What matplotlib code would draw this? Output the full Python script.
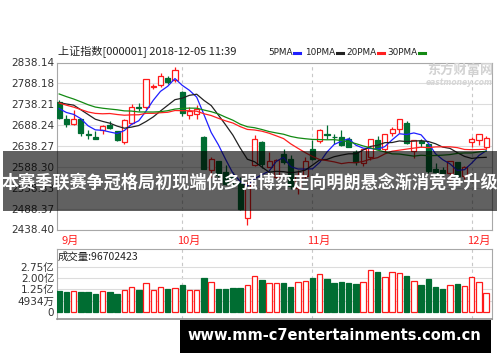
"""
SSE composite daily candles, Sep-Dec 2018, with MA lines, volume and overlay banner
"""

import numpy as np
import pandas as pd

import matplotlib

matplotlib.use("Agg")
import matplotlib.pyplot as plt  # noqa:E402
from matplotlib.lines import Line2D  # noqa:E402
from matplotlib.patches import Rectangle  # noqa:E402

CJK = ["Noto Sans CJK SC", "DejaVu Sans"]
LATIN = ["DejaVu Sans", "Noto Sans CJK SC"]

# closes before the window, used only to seed the moving averages
prior_closes = [
    2882.23, 2873.59, 2869.05, 2876.40, 2824.53, 2768.02, 2740.44, 2705.16,
    2779.37, 2744.07, 2794.38, 2795.31, 2785.87, 2780.96, 2723.26, 2705.19,
    2668.97, 2698.47, 2733.88, 2714.61, 2724.62, 2729.43, 2780.90, 2777.98,
    2769.30, 2737.74, 2725.25, 2720.73, 2750.58,
]

opens = [
    2744, 2703, 2690, 2703, 2666, 2661, 2677, 2689, 2674, 2649, 2693, 2732,
    2731, 2779, 2784, 2802, 2796, 2768, 2713, 2715, 2660, 2581, 2602, 2576,
    2570, 2553, 2465, 2593, 2648, 2588, 2565, 2619, 2607, 2537, 2567, 2632,
    2651, 2665.5, 2660, 2660, 2655, 2624, 2597, 2611, 2652, 2632, 2669, 2679,
    2693, 2627, 2650, 2643, 2584, 2581, 2573, 2601, 2567, 2647, 2653, 2636,
]
highs = [
    2748, 2713, 2724, 2704, 2676, 2673, 2688, 2697, 2675, 2702, 2740, 2741,
    2798, 2787, 2814, 2805, 2827, 2771, 2732, 2737, 2662, 2612, 2603, 2592,
    2576, 2565, 2551, 2664, 2651, 2624, 2607, 2631, 2616, 2582, 2611, 2653,
    2680, 2689, 2668, 2676, 2660, 2629, 2631, 2656, 2662, 2668, 2684, 2704,
    2698, 2652, 2655, 2645, 2597, 2589, 2602, 2601, 2590, 2659, 2667, 2663,
]
lows = [
    2703, 2683, 2688, 2662, 2656, 2654, 2668, 2678, 2651, 2644, 2691, 2721,
    2726, 2774, 2780, 2787, 2792, 2710, 2702, 2703, 2583, 2565, 2563, 2545,
    2541, 2486, 2449, 2591, 2586, 2587, 2561, 2596, 2536, 2524, 2562, 2604,
    2645, 2654, 2642, 2638, 2635, 2592, 2591, 2605, 2630, 2623, 2662, 2670,
    2643, 2610, 2637, 2574, 2567, 2567, 2556, 2566, 2559, 2635, 2641, 2630,
]
closes = [
    2704.34, 2691.59, 2702.30, 2669.48, 2664.80, 2656.11, 2686.58, 2681.64,
    2651.79, 2699.95, 2730.85, 2729.24, 2797.49, 2781.14, 2806.81, 2791.77,
    2821.35, 2716.51, 2721.01, 2725.84, 2583.46, 2606.91, 2568.10, 2546.33,
    2561.61, 2486.42, 2550.47, 2654.88, 2594.83, 2603.30, 2603.80, 2598.85,
    2542.10, 2568.05, 2602.78, 2606.24, 2676.48, 2665.43, 2659.36, 2641.34,
    2635.63, 2598.87, 2630.52, 2654.88, 2632.24, 2668.17, 2679.11, 2703.51,
    2645.43, 2651.51, 2645.85, 2579.48, 2575.81, 2574.68, 2601.74, 2567.44,
    2588.19, 2654.80, 2665.96, 2658.00,
]
# volume in 亿 (1e8)
volumes = [
    1.16, 1.07, 1.12, 1.07, 1.07, 0.94, 1.12, 1.07, 0.94, 1.20, 1.42, 1.20,
    1.65, 1.20, 1.42, 1.25, 1.36, 1.52, 1.20, 1.20, 2.02, 1.71, 1.25, 1.25,
    1.32, 1.32, 1.54, 2.15, 1.85, 1.65, 1.65, 1.65, 1.38, 1.71, 1.82, 2.02,
    2.27, 1.95, 1.65, 1.75, 1.65, 1.58, 1.75, 2.51, 2.40, 2.09, 2.38, 2.31,
    2.13, 1.82, 1.52, 1.95, 1.38, 1.25, 1.52, 1.60, 1.47, 2.07, 1.71, 1.02,
]

month_labels = ["9月", "10月", "11月", "12月"]
month_starts = [0, 17, 35, 57]

price_ticks = [2438.40, 2488.37, 2538.33, 2588.30, 2638.27, 2688.24,
               2738.21, 2788.18, 2838.14]
vol_ticks = [0, 0.4934, 1.25, 2.00, 2.75]
vol_tick_labels = ["0", "4934万", "1.25亿", "2.00亿", "2.75亿"]

ma_periods = [5, 10, 20, 30]
ma_colors = ["#1f1fff", "#222222", "#ff2020", "#138a13"]
ma_names = ["5PMA", "10PMA", "20PMA", "30PMA"]

title = "上证指数[000001] 2018-12-05 11:39"
vol_title = "成交量:96702423"
banner = "本赛季联赛争冠格局初现端倪多强博弈走向明朗悬念渐消竞争升级"
site = "www.mm-c7entertainments.com.cn"

RED = "#ff1a1a"
GREEN = "#006d32"
W, H = 500, 362


def fx(px):
    return px / W


def fy(py):
    return (H - py) / H


def vol_fwd(v):
    return np.interp(v, [-1.0] + vol_ticks + [5.0],
                     [-1 / 0.4934, 0, 1, 2, 3, 4, 7])


def vol_inv(g):
    return np.interp(g, [-1 / 0.4934, 0, 1, 2, 3, 4, 7],
                     [-1.0] + vol_ticks + [5.0])


def main():
    fig = plt.figure(figsize=(W / 100, H / 100), dpi=100)
    ax = fig.add_axes([fx(57), fy(229.5), fx(435), (229.5 - 62.5) / H])
    vax = fig.add_axes([fx(57), fy(318.5), fx(435), 70 / H])

    o = np.array(opens)
    c = np.array(closes)
    hi = np.array(highs)
    lo = np.array(lows)
    x = np.arange(len(c))
    up = c >= o
    top = np.maximum(o, c)
    bot = np.minimum(o, c)

    # grid
    for a in (ax, vax):
        for m in month_starts[1:]:
            a.axvline(m, color="#c8c8c8", lw=0.8, ls=(0, (3, 3)), zorder=0)
    for t in price_ticks:
        ax.axhline(t, color="#dcdcdc", lw=0.8, zorder=0)
    for t in vol_ticks[1:]:
        vax.axhline(t, color="#dcdcdc", lw=0.8, zorder=0)

    # candles
    cols = np.where(up, RED, GREEN)
    ax.vlines(x, top, hi, colors=cols, lw=0.9, zorder=2)
    ax.vlines(x, lo, bot, colors=cols, lw=0.9, zorder=2)
    ax.bar(x, np.maximum(top - bot, 0.8), bottom=bot, width=0.7,
           color=np.where(up, "white", GREEN), edgecolor=cols, lw=0.9,
           zorder=3)

    # moving averages
    allc = pd.Series(prior_closes + closes)
    for p, col in zip(ma_periods, ma_colors):
        ma = allc.rolling(p).mean().to_numpy()[-len(c):]
        ax.plot(x, ma, color=col, lw=0.9, zorder=4)

    ax.set_xlim(-0.3, 59.8)
    ax.set_ylim(price_ticks[0], price_ticks[-1])
    ax.set_yticks(price_ticks, [f"{t:.2f}" for t in price_ticks])
    ax.set_xticks([])
    ax.tick_params(axis="y", length=0, pad=2, labelsize=7.5,
                   labelcolor="#333333")

    for lab, m in zip(month_labels, month_starts):
        ax.text(max(m - 0.7, 0.3), -0.068, lab, transform=ax.get_xaxis_transform(),
                color="#ff2020", fontsize=8, family=CJK, ha="left", va="center")

    # volume
    vax.set_yscale("function", functions=(vol_fwd, vol_inv))
    vax.bar(x, volumes, width=0.75, color=np.where(up, "white", GREEN),
            edgecolor=cols, lw=0.9, zorder=3)
    vax.set_xlim(-0.3, 59.8)
    vax.set_ylim(-0.28, 3.96)
    vax.set_yticks(vol_ticks, vol_tick_labels)
    vax.yaxis.set_minor_locator(matplotlib.ticker.NullLocator())
    vax.set_xticks([])
    vax.tick_params(axis="y", length=0, pad=2, labelsize=7.5,
                    labelcolor="#333333")
    for lab in vax.get_yticklabels():
        lab.set_family(LATIN)

    for a in (ax, vax):
        for s in a.spines.values():
            s.set_color("#a8a8a8")
            s.set_linewidth(0.8)
    vax.spines["bottom"].set_color("#909090")
    vax.spines["bottom"].set_linewidth(1.2)

    fig.text(fx(58), fy(257), vol_title, fontsize=7.5, family=CJK,
             color="#222222", va="center")

    # header and legend
    fig.text(fx(58), fy(52), title, fontsize=8, family=CJK, color="#222222",
             va="center")
    leg_x = [268, 305, 346, 387]
    for name, col, lx in zip(ma_names, ma_colors, leg_x):
        t = fig.text(fx(lx), fy(52.5), name, fontsize=6.4, family=LATIN,
                     color="#222222", va="center")
        fig.canvas.draw()
        bb = t.get_window_extent()
        x0 = bb.x1 + 1.5
        fig.add_artist(Line2D([fx(x0), fx(x0 + 6)], [fy(53), fy(53)],
                              transform=fig.transFigure, color=col, lw=2.2))

    # watermark
    fig.text(fx(460), fy(70), "东方财富网", fontsize=9.5, family=CJK,
             weight="bold", color="#d2d2d2", ha="center", va="center")
    fig.text(fx(459), fy(82.5), "eastmoney.com", fontsize=5.5, style="italic",
             weight="bold", color="#d6d6d6", ha="center", va="center")

    # overlay banner
    fig.add_artist(Rectangle((fx(3), fy(211)), fx(494), 60 / H,
                             transform=fig.transFigure, color="black",
                             alpha=0.62, lw=0, zorder=5))
    fig.text(0.5, fy(183), banner, fontsize=12.3, family=CJK, weight="bold",
             color="white", ha="center", va="center", zorder=6)

    fig.add_artist(Rectangle((fx(180), fy(352.5)), fx(311), 33 / H,
                             transform=fig.transFigure, color="black",
                             lw=0, zorder=5))
    fig.text(fx(334), fy(336), site, fontsize=10.5, family="DejaVu Sans",
             weight="bold", color="white", ha="center", va="center",
             zorder=6)

    fig.savefig("out.png", dpi=100)
    plt.close(fig)


if __name__ == "__main__":
    main()
